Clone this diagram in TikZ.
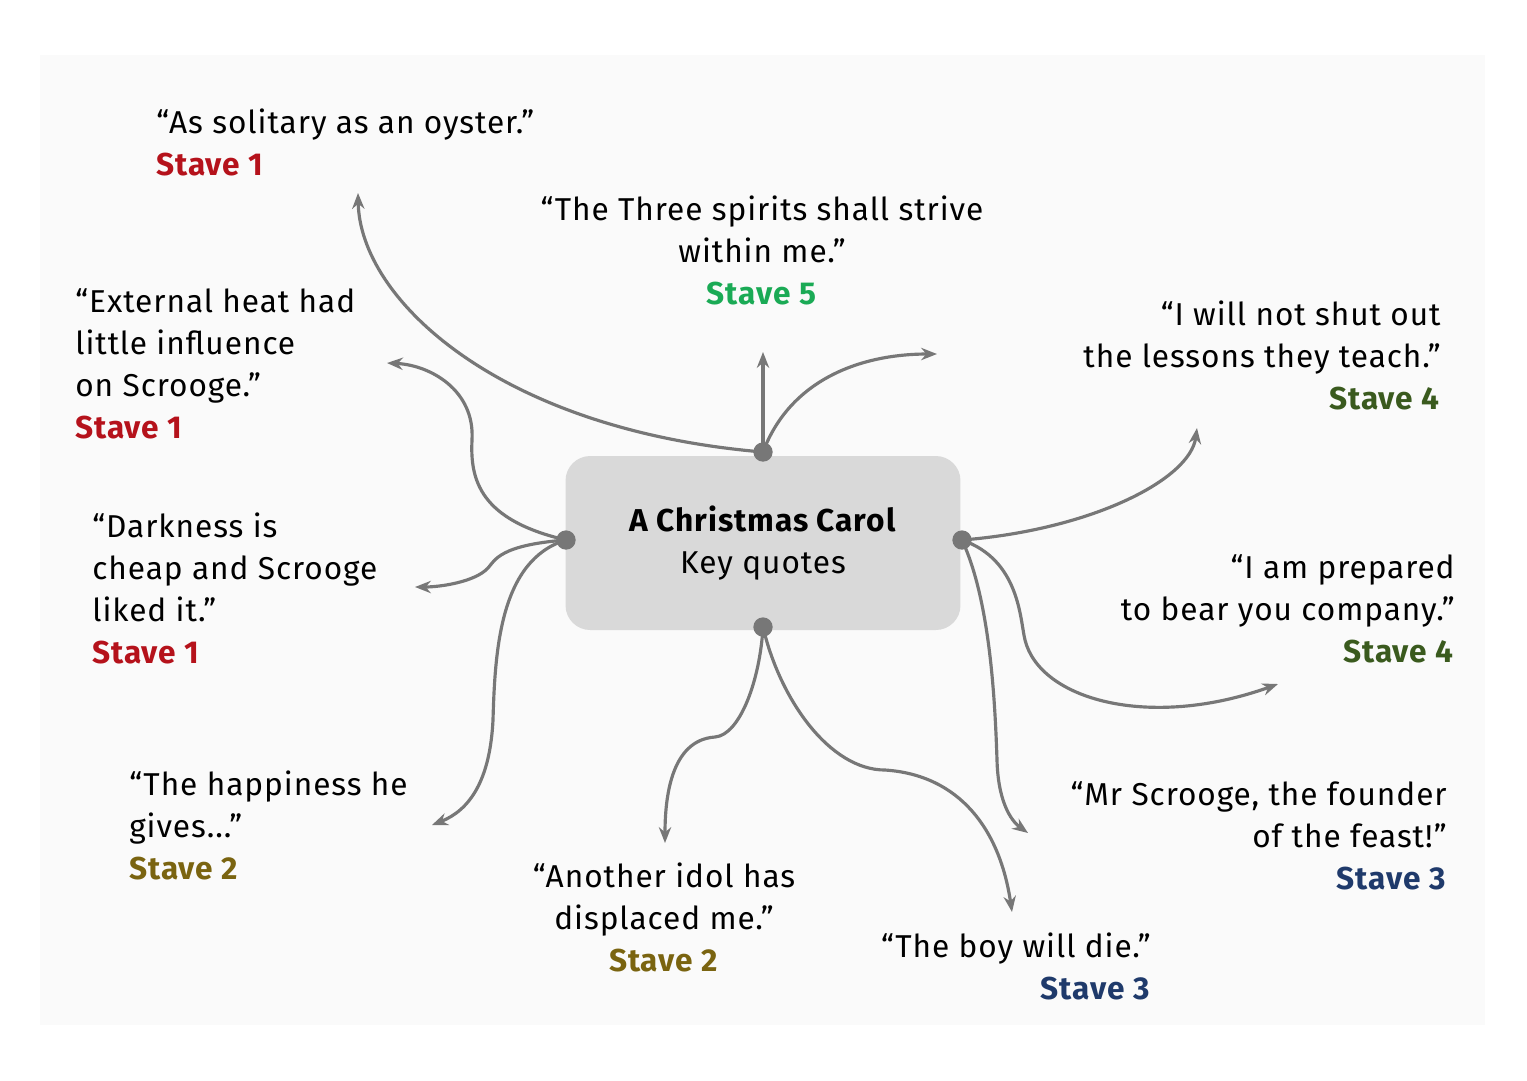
\documentclass[tikz,border=0pt]{standalone}
\usepackage{fontspec}
\setmainfont[LetterSpace=3]{Fira Sans}
\usetikzlibrary{arrows.meta}
\definecolor{sred}{HTML}{B5121B}
\definecolor{sgreen}{HTML}{1AAA55}
\definecolor{sdgreen}{HTML}{3A5A1E}
\definecolor{solive}{HTML}{7A6410}
\definecolor{snavy}{HTML}{1F3A6B}
\definecolor{lnk}{HTML}{777777}
\tikzset{
 q/.style={inner sep=0pt,font=\fontsize{18}{24}\selectfont},
 lnkline/.style={draw=lnk,line width=1.8pt,-{Stealth[length=9pt,width=7pt]}},
 dotn/.style={circle,fill=lnk,inner sep=0pt,minimum size=11pt}
}
\begin{document}
\begin{tikzpicture}[x=0.02cm,y=-0.02cm]
\useasboundingbox (0,0) rectangle (1527,1080);
\fill[white] (0,0) rectangle (1527,1080);
\fill[gray!4] (40,55) rectangle (1485,1025);
\node[fill=gray!30,rounded corners=14pt,minimum width=7.9cm,minimum height=3.48cm,align=center,font=\fontsize{18}{24}\selectfont] (c) at (763,543) {\textbf{A Christmas Carol}\\Key quotes};
\coordinate (t) at (763,452); \coordinate (l) at (566,540);
\coordinate (r) at (962,540); \coordinate (b) at (763,627);
\coordinate (a1) at (358,193); \coordinate (a2) at (763,352); \coordinate (a3) at (937,354);
\coordinate (a4) at (387,363); \coordinate (a5) at (415,587); \coordinate (a6) at (432,825);
\coordinate (a7) at (1197,428); \coordinate (a8) at (1278,684); \coordinate (a9) at (1028,833);
\coordinate (a10) at (665,843); \coordinate (a11) at (1012,912);
\draw[lnkline] (t) .. controls (500,430) and (360,300) .. (a1);
\draw[lnkline] (t) -- (a2);
\draw[lnkline] (t) .. controls (790,380) and (860,354) .. (a3);
\draw[lnkline] (l) .. controls (480,520) and (470,480) .. (472,440) .. controls (475,390) and (430,365) .. (a4);
\draw[lnkline] (l) .. controls (500,545) and (495,560) .. (488,568) .. controls (475,582) and (440,587) .. (a5);
\draw[lnkline] (l) .. controls (500,560) and (495,650) .. (493,720) .. controls (490,780) and (470,810) .. (a6);
\draw[lnkline] (r) .. controls (1090,530) and (1190,480) .. (a7);
\draw[lnkline] (r) .. controls (1020,560) and (1020,620) .. (1025,640) .. controls (1040,700) and (1150,730) .. (a8);
\draw[lnkline] (r) .. controls (990,600) and (995,700) .. (997,760) .. controls (998,800) and (1010,820) .. (a9);
\draw[lnkline] (b) .. controls (760,680) and (740,735) .. (715,737) .. controls (670,740) and (665,800) .. (a10);
\draw[lnkline] (b) .. controls (780,700) and (830,770) .. (885,770) .. controls (960,775) and (1000,830) .. (a11);
\foreach \p in {t,l,r,b} \node[dotn] at (\p) {};
\node[q,anchor=north west,align=left] (q1) at (156,108) {“As solitary as an oyster.”\\\textcolor{sred}{\textbf{Stave 1}}};
\node[q,anchor=north,align=center] (q2) at (762,195) {“The Three spirits shall strive\\within me.”\\\textcolor{sgreen}{\textbf{Stave 5}}};
\node[q,anchor=north east,align=right] (q3) at (1441,300) {“I will not shut out\\the lessons they teach.”\\\textcolor{sdgreen}{\textbf{Stave 4}}};
\node[q,anchor=north west,align=left] (q4) at (75,288) {“External heat had\\little influence\\on Scrooge.”\\\textcolor{sred}{\textbf{Stave 1}}};
\node[q,anchor=north west,align=left] (q5) at (92,512) {“Darkness is\\cheap and Scrooge\\liked it.”\\\textcolor{sred}{\textbf{Stave 1}}};
\node[q,anchor=north east,align=right] (q6) at (1455,554) {“I am prepared\\to bear you company.”\\\textcolor{sdgreen}{\textbf{Stave 4}}};
\node[q,anchor=north west,align=left] (q7) at (129,770) {“The happiness he\\gives...”\\\textcolor{solive}{\textbf{Stave 2}}};
\node[q,anchor=north east,align=right] (q8) at (1447,781) {“Mr Scrooge, the founder\\of the feast!”\\\textcolor{snavy}{\textbf{Stave 3}}};
\node[q,anchor=north,align=center] (q9) at (664,862) {“Another idol has\\displaced me.”\\\textcolor{solive}{\textbf{Stave 2}}};
\node[q,anchor=north east,align=right] (q10) at (1151,932) {“The boy will die.”\\\textcolor{snavy}{\textbf{Stave 3}}};
\end{tikzpicture}
\end{document}
